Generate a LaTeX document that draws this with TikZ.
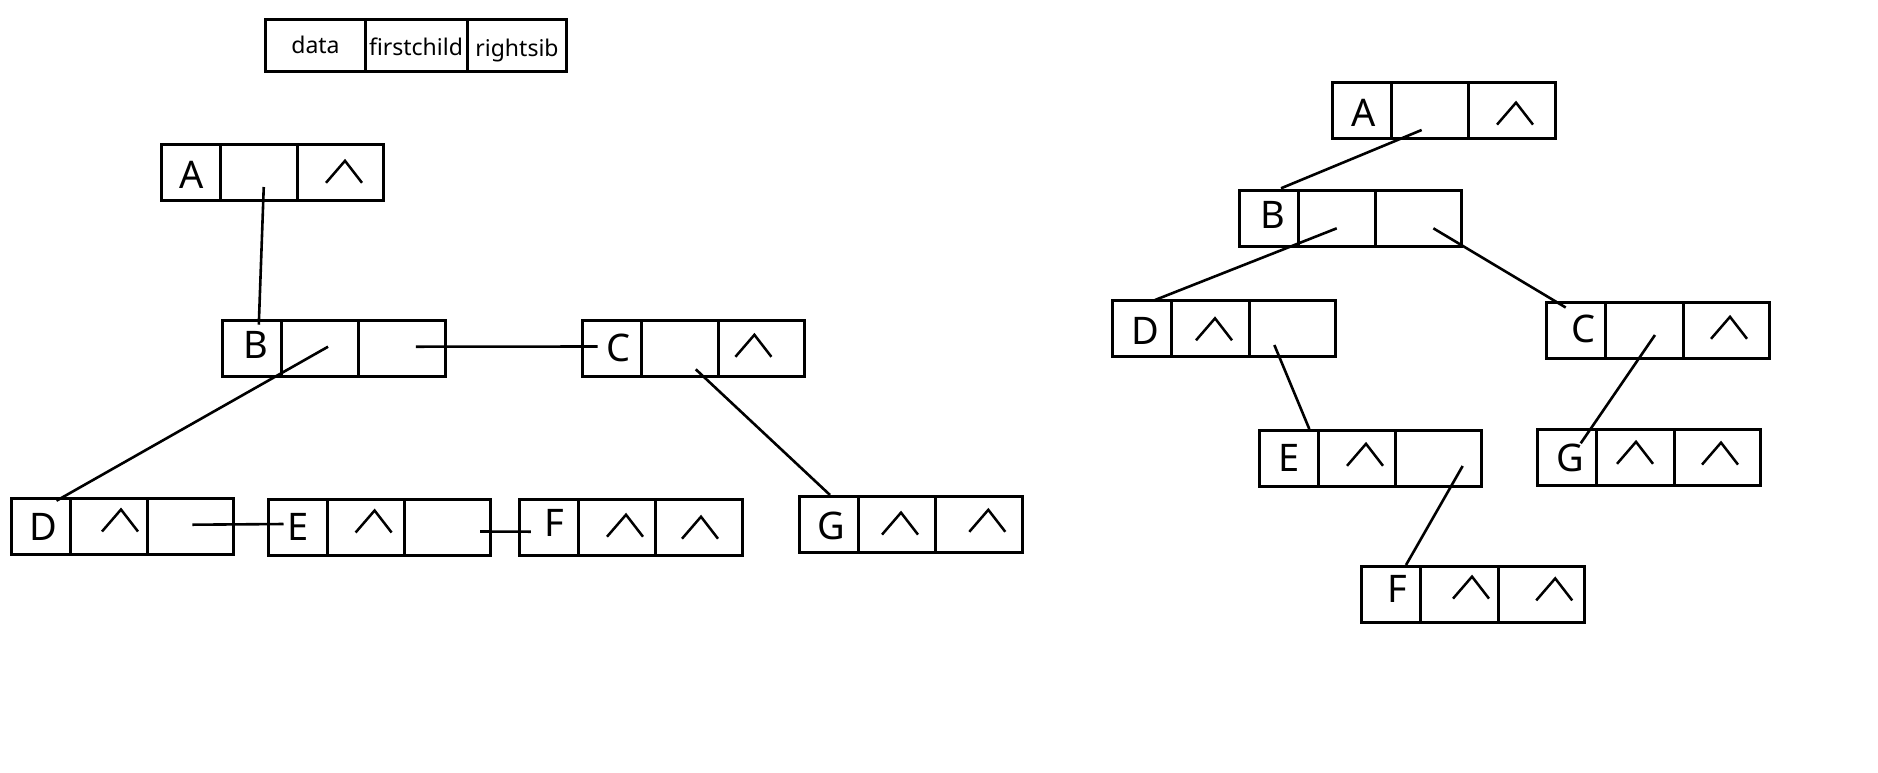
\documentclass[tikz,border=0pt]{standalone}
\usepackage{fontspec}
\setmainfont{Noto Sans}
\usetikzlibrary{calc}

\tikzset{
  cell/.style={draw, line width=3pt, minimum height=56pt, inner sep=0pt,
               outer sep=0pt, anchor=north west},
  hcell/.style={draw, line width=3pt, minimum height=51.7pt, inner sep=0pt,
                outer sep=0pt, anchor=north west},
  letter/.style={anchor=base, inner sep=0pt, font=\fontsize{38}{38}\selectfont},
  htext/.style={anchor=base, inner sep=0pt, font=\fontsize{23}{23}\selectfont},
  link/.style={line width=2.6pt},
  nil/.style={line width=2.5pt, line join=miter},
}

% one child-sibling record: data | firstchild | rightsib
\newcommand\tikzrecord[3]{%
  \node[cell, minimum width=59pt]   (#1-d) at (#2,#3) {};
  \node[cell, minimum width=77.5pt] (#1-f) at (#1-d.north east) {};
  \node[cell, minimum width=86.3pt] (#1-r) at (#1-f.north east) {};
}
% the "^" mark of an empty pointer field, centred at (x,y)
\newcommand\nilmark[2]{%
  \draw[nil] (#1,#2) ++(-18,11) -- ++(19,-22) -- ++(17,22);
}

\begin{document}
\begin{tikzpicture}[x=1pt, y=-1pt]
\path[use as bounding box] (0,0) rectangle (1878,772);

% ---------- field legend ----------
\node[hcell, minimum width=100pt]  (hd) at (265.7,19.3) {};
\node[hcell, minimum width=101.6pt] (hf) at (hd.north east) {};
\node[hcell, minimum width=98.7pt] (hr) at (hf.north east) {};
\node[htext] (hd-t) at (315.5,53.3) {data};
\node[htext] (hf-t) at (416,55.7) {firstchild};
\node[htext] (hr-t) at (517,56.7) {rightsib};

% ---------- left: records laid out as a forest ----------
\tikzrecord{lA}{161}{144}
\tikzrecord{lB}{222.3}{320.7}
\tikzrecord{lC}{582}{320}
\tikzrecord{lD}{11}{498.3}
\tikzrecord{lE}{268}{499.3}
\tikzrecord{lF}{519.3}{499.3}
\tikzrecord{lG}{799.3}{496}

\node[letter] (lA-t) at (191.7,188.3) {A};
\node[letter] (lB-t) at (256.3,358.3) {B};
\node[letter] (lC-t) at (618.3,361.7) {C};
\node[letter] (lD-t) at (43.7,540.7) {D};
\node[letter] (lE-t) at (298,540.7) {E};
\node[letter] (lF-t) at (554.2,536) {F};
\node[letter] (lG-t) at (831.7,539.3) {G};

\nilmark{344}{171.8}
\nilmark{753.4}{345.8}
\nilmark{120}{520.5}
\nilmark{373.6}{521.5}
\nilmark{625}{525.7}
\nilmark{700}{527.7}
\nilmark{900}{523.6}
\nilmark{987.3}{520.8}

\draw[link] ($(lA-f.center)+(5,15)$)   -- ($(lB-d.north)+(7,4)$);
\draw[link] ($(lB-f.center)+(8,-2)$)   -- ($(lD-d.north)+(16,2.4)$);
\draw[link] ($(lB-r.center)+(14,-2)$)  -- ($(lC-d.center)+(-14,-1.5)$);
\draw[link] ($(lC-f.center)+(16,21.3)$) -- ($(lG-d.north)+(1.2,-1)$);
\draw[link] ($(lD-r.center)+(1.7,-1.6)$) -- ($(lE-d.center)+(-14,-3.3)$);
\draw[link] ($(lE-r.center)+(32.5,4.2)$) -- ($(lF-d.center)+(-18,4.4)$);

% ---------- right: the same records as a binary tree ----------
\tikzrecord{rA}{1332.3}{82.3}
\tikzrecord{rB}{1239}{190}
\tikzrecord{rD}{1112.7}{300.7}
\tikzrecord{rC}{1546.7}{302.3}
\tikzrecord{rE}{1259}{430}
\tikzrecord{rG}{1537.7}{429.3}
\tikzrecord{rF}{1361.7}{566}

\node[letter] (rA-t) at (1363.2,126.7) {A};
\node[letter] (rB-t) at (1273,228.3) {B};
\node[letter] (rD-t) at (1145.3,344) {D};
\node[letter] (rC-t) at (1583.2,342.7) {C};
\node[letter] (rE-t) at (1288.7,471.7) {E};
\node[letter] (rG-t) at (1570.3,471.7) {G};
\node[letter] (rF-t) at (1397.2,602.7) {F};

\nilmark{1515}{113.6}
\nilmark{1214}{329.3}
\nilmark{1729}{327.8}
\nilmark{1365}{454.8}
\nilmark{1635}{452.8}
\nilmark{1720}{453.6}
\nilmark{1471}{587.6}
\nilmark{1554.2}{589.4}

\draw[link] ($(rA-f.center)+(-8.4,19.7)$) -- ($(rB-d.north)+(12.5,-1.7)$);
\draw[link] ($(rB-f.center)+(0,10.3)$)    -- ($(rD-d.north)+(12.8,-0.7)$);
\draw[link] ($(rB-r.center)+(14.7,10.3)$) -- ($(rC-d.north)+(-10.5,5.2)$);
\draw[link] ($(rD-r.center)+(-18,16.3)$)  -- ($(rE-d.north)+(20.8,-1)$);
\draw[link] ($(rC-f.center)+(10.5,4.7)$)  -- ($(rG-d.center)+(13.5,-14)$);
\draw[link] ($(rE-r.center)+(24,8)$)      -- ($(rF-d.north)+(14.8,-1)$);
\end{tikzpicture}
\end{document}
